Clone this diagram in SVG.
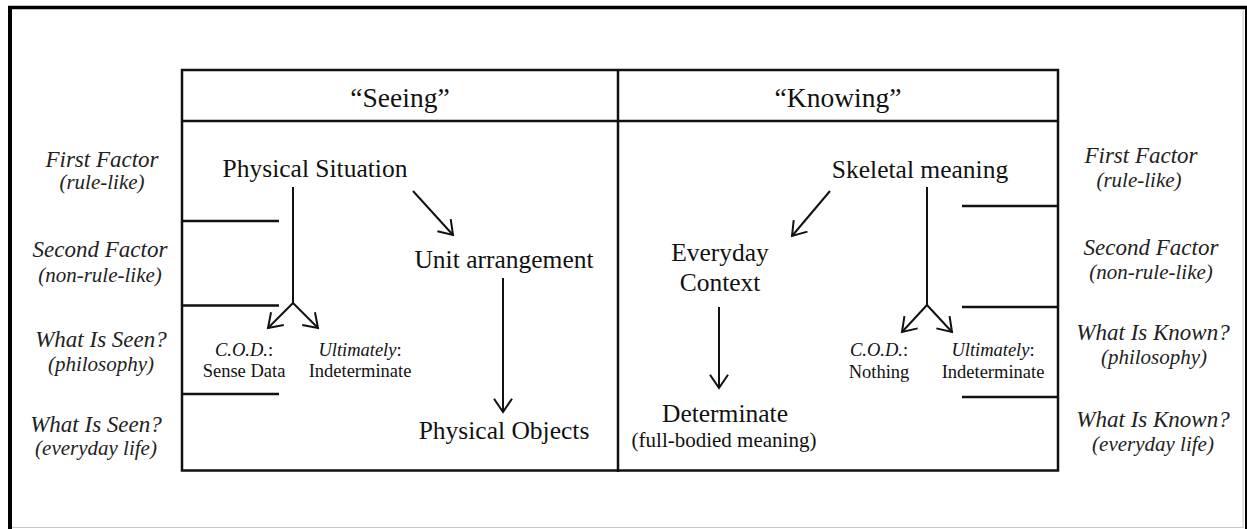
<svg xmlns="http://www.w3.org/2000/svg" width="1247" height="529" viewBox="0 0 1247 529">
  <style>
    text { font-family: "Liberation Serif", "Times New Roman", serif; fill: #111; text-anchor: middle; }
    .hdr { font-size: 27.5px; }
    .main { font-size: 25.5px; }
    .sub { font-size: 21px; }
    .small { font-size: 18.5px; }
    .lab { font-size: 23px; font-style: italic; fill: #222; }
    .labsub { font-size: 21px; font-style: italic; fill: #222; }
    .it { font-style: italic; }
    .grid { stroke: #111; stroke-width: 2.5; fill: none; }
    .conn { stroke: #111; stroke-width: 2; fill: none; }
  </style>
  <defs>
    <marker id="arrow" markerUnits="userSpaceOnUse" viewBox="-20 -20 40 40" markerWidth="40" markerHeight="40" refX="0" refY="0" orient="auto" overflow="visible">
      <path d="M-13.3,-9 L0,0 L-13.3,9" fill="none" stroke="#111" stroke-width="2" stroke-linejoin="miter"/>
    </marker>
  </defs>

  <rect width="1247" height="529" fill="#fff"/>

  <!-- outer frame: heavy top/left edges, light bottom/right -->
  <g id="frame">
    <line x1="8" y1="7.5" x2="1247" y2="7.5" stroke="#000" stroke-width="3.5"/>
    <line x1="10" y1="6" x2="10" y2="529" stroke="#000" stroke-width="4"/>
    <line x1="1246" y1="6" x2="1246" y2="529" stroke="#000" stroke-width="2"/>
    <line x1="1243" y1="9" x2="1243" y2="528" stroke="#c8c8c8" stroke-width="1"/>
    <line x1="12" y1="527.5" x2="1243" y2="527.5" stroke="#c8c8c8" stroke-width="1.2"/>
  </g>

  <!-- two-column table with row dividers -->
  <g id="table" class="grid">
    <rect x="182" y="70" width="876" height="400.5"/>
    <line x1="182" y1="121" x2="1058" y2="121"/>
    <line x1="618" y1="70" x2="618" y2="472"/>
    <line x1="182" y1="221" x2="279" y2="221"/>
    <line x1="182" y1="305.5" x2="279" y2="305.5"/>
    <line x1="182" y1="394" x2="279" y2="394"/>
    <line x1="962" y1="206" x2="1058" y2="206"/>
    <line x1="962" y1="307" x2="1058" y2="307"/>
    <line x1="962" y1="397" x2="1058" y2="397"/>
  </g>

  <g id="header-seeing"><text class="hdr" x="400" y="107">“Seeing”</text></g>
  <g id="header-knowing"><text class="hdr" x="838" y="107">“Knowing”</text></g>

  <!-- row labels, left side -->
  <g id="left-first-factor">
    <text class="lab" x="102" y="167">First Factor</text>
    <text class="labsub" x="102" y="189">(rule-like)</text>
  </g>
  <g id="left-second-factor">
    <text class="lab" x="100" y="257">Second Factor</text>
    <text class="labsub" x="100" y="282">(non-rule-like)</text>
  </g>
  <g id="left-seen-philosophy">
    <text class="lab" x="101" y="347">What Is Seen?</text>
    <text class="labsub" x="101" y="371">(philosophy)</text>
  </g>
  <g id="left-seen-everyday">
    <text class="lab" x="96" y="432">What Is Seen?</text>
    <text class="labsub" x="96" y="455">(everyday life)</text>
  </g>

  <!-- row labels, right side -->
  <g id="right-first-factor">
    <text class="lab" x="1141" y="163">First Factor</text>
    <text class="labsub" x="1139" y="187">(rule-like)</text>
  </g>
  <g id="right-second-factor">
    <text class="lab" x="1151" y="255">Second Factor</text>
    <text class="labsub" x="1151" y="279">(non-rule-like)</text>
  </g>
  <g id="right-known-philosophy">
    <text class="lab" x="1153" y="340">What Is Known?</text>
    <text class="labsub" x="1154" y="364">(philosophy)</text>
  </g>
  <g id="right-known-everyday">
    <text class="lab" x="1153" y="427">What Is Known?</text>
    <text class="labsub" x="1153" y="451">(everyday life)</text>
  </g>

  <!-- "Seeing" column nodes -->
  <g id="physical-situation"><text class="main" x="315" y="177">Physical Situation</text></g>
  <g id="unit-arrangement"><text class="main" x="504" y="268">Unit arrangement</text></g>
  <g id="physical-objects"><text class="main" x="504" y="439">Physical Objects</text></g>
  <g id="seeing-cod">
    <text class="small" x="244" y="356"><tspan class="it">C.O.D.</tspan>:</text>
    <text class="small" x="244" y="377">Sense Data</text>
  </g>
  <g id="seeing-ultimately">
    <text class="small" x="360" y="356"><tspan class="it">Ultimately</tspan>:</text>
    <text class="small" x="360" y="377">Indeterminate</text>
  </g>

  <!-- "Knowing" column nodes -->
  <g id="skeletal-meaning"><text class="main" x="920" y="178">Skeletal meaning</text></g>
  <g id="everyday-context">
    <text class="main" x="720" y="261">Everyday</text>
    <text class="main" x="720" y="291">Context</text>
  </g>
  <g id="determinate">
    <text class="main" x="725" y="422">Determinate</text>
    <text class="sub" x="724" y="447">(full-bodied meaning)</text>
  </g>
  <g id="knowing-cod">
    <text class="small" x="879" y="356"><tspan class="it">C.O.D.</tspan>:</text>
    <text class="small" x="879" y="378">Nothing</text>
  </g>
  <g id="knowing-ultimately">
    <text class="small" x="993" y="356"><tspan class="it">Ultimately</tspan>:</text>
    <text class="small" x="993" y="378">Indeterminate</text>
  </g>

  <!-- connectors -->
  <g id="connectors" class="conn">
    <line x1="293" y1="187" x2="293" y2="303"/>
    <line x1="293" y1="303" x2="268" y2="328" marker-end="url(#arrow)"/>
    <line x1="293" y1="303" x2="318" y2="328" marker-end="url(#arrow)"/>
    <line x1="413" y1="191" x2="453" y2="235" marker-end="url(#arrow)"/>
    <line x1="503" y1="278" x2="503" y2="412" marker-end="url(#arrow)"/>
    <line x1="830" y1="191" x2="792" y2="236" marker-end="url(#arrow)"/>
    <line x1="719" y1="307" x2="719" y2="388" marker-end="url(#arrow)"/>
    <line x1="927" y1="187" x2="927" y2="305"/>
    <line x1="927" y1="305" x2="902" y2="332" marker-end="url(#arrow)"/>
    <line x1="927" y1="305" x2="952" y2="332" marker-end="url(#arrow)"/>
  </g>
</svg>
